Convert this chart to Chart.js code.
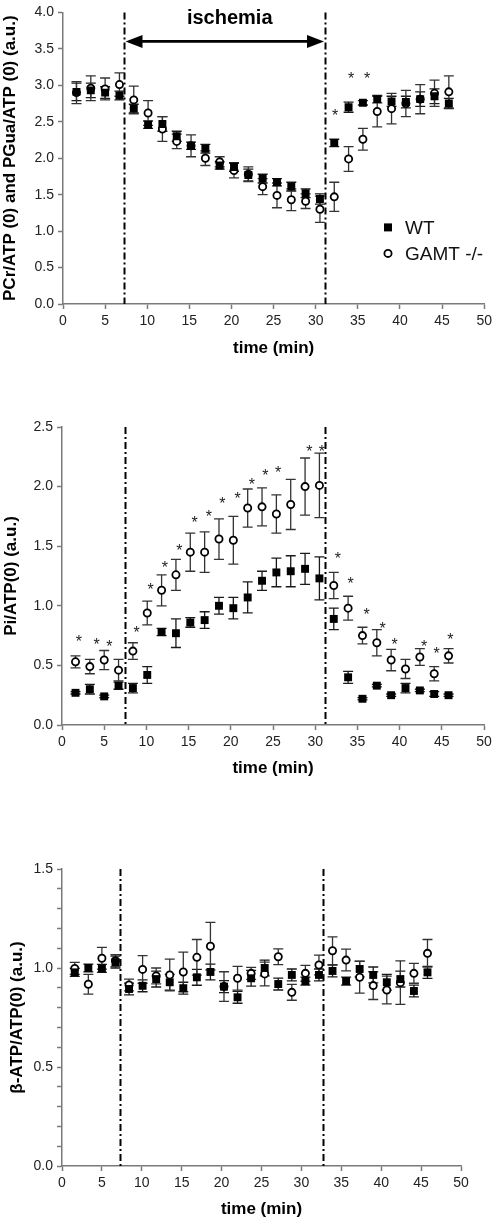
<!DOCTYPE html>
<html><head><meta charset="utf-8">
<script src="https://cdn.jsdelivr.net/npm/chart.js@4.4.0/dist/chart.umd.min.js"></script>
<style>
html,body{margin:0;padding:0;background:#fff;}
#wrap{position:relative;width:496px;height:1220px;overflow:hidden;background:#fff;}
.panel{position:absolute;left:0;width:496px;}
</style></head><body>
<div id="wrap">
<div class="panel" style="top:0;height:365px"><canvas id="c1"></canvas></div>
<div class="panel" style="top:400px;height:385px"><canvas id="c2"></canvas></div>
<div class="panel" style="top:840px;height:380px"><canvas id="c3"></canvas></div>
</div>
<script>
// ---- data (time in min) ----
const time = [1.6,3.3,5.0,6.7,8.4,10.1,11.8,13.5,15.2,16.9,18.6,20.3,22.0,23.7,25.4,27.1,28.8,30.5,32.2,33.9,35.6,37.3,39.0,40.7,42.4,44.1,45.8];
const xTicks = [0,5,10,15,20,25,30,35,40,45,50];
const seriesNames = ['WT','GAMT -/-'];

// Panel 1: PCr/ATP (WT) and PGua/ATP (GAMT -/-)
const pcrWT      = [2.91,2.93,2.90,2.86,2.68,2.46,2.47,2.30,2.17,2.13,1.90,1.88,1.77,1.72,1.67,1.61,1.52,1.44,2.21,2.70,2.76,2.81,2.78,2.77,2.81,2.85,2.75];
const pcrWTErr   = [0.12,0.10,0.08,0.06,0.06,0.05,0.10,0.07,0.05,0.06,0.05,0.06,0.08,0.06,0.05,0.06,0.06,0.07,0.05,0.07,0.03,0.05,0.07,0.08,0.10,0.10,0.07];
const pcrGAMT    = [2.90,2.96,2.95,3.01,2.80,2.62,2.40,2.23,2.17,2.00,1.95,1.83,1.78,1.61,1.49,1.43,1.41,1.30,1.47,1.99,2.26,2.64,2.68,2.75,2.81,2.89,2.91];
const pcrGAMTErr = [0.15,0.17,0.15,0.16,0.19,0.17,0.17,0.10,0.15,0.10,0.07,0.10,0.10,0.11,0.17,0.15,0.10,0.18,0.20,0.17,0.15,0.21,0.21,0.18,0.20,0.18,0.22];
const pcrTicks   = [0,0.5,1.0,1.5,2.0,2.5,3.0,3.5,4.0];
const pcrStarT   = [32.3,34.2,36.1];
const pcrStarV   = [2.64,3.15,3.15];
const pcrIschemia = [7.3,31.1];

// Panel 2: Pi/ATP(0)
const piWT      = [0.27,0.30,0.24,0.33,0.31,0.42,0.78,0.77,0.86,0.88,1.00,0.98,1.07,1.21,1.28,1.29,1.31,1.23,0.89,0.40,0.22,0.33,0.25,0.31,0.29,0.26,0.25];
const piWTErr   = [0.01,0.04,0.01,0.03,0.04,0.07,0.03,0.12,0.04,0.07,0.07,0.09,0.13,0.08,0.12,0.13,0.13,0.18,0.09,0.05,0.01,0.01,0.01,0.04,0.01,0.02,0.01];
const piGAMT    = [0.53,0.49,0.545,0.46,0.62,0.94,1.13,1.26,1.45,1.45,1.56,1.55,1.82,1.83,1.77,1.85,2.00,2.01,1.17,0.98,0.75,0.69,0.545,0.47,0.57,0.43,0.58];
const piGAMTErr = [0.05,0.06,0.08,0.09,0.07,0.10,0.13,0.13,0.16,0.17,0.17,0.20,0.16,0.16,0.16,0.21,0.24,0.27,0.11,0.10,0.07,0.11,0.09,0.08,0.07,0.06,0.06];
const piTicks   = [0,0.5,1.0,1.5,2.0,2.5];
const piStarT   = [2.0,4.1,5.6,8.85,10.5,12.2,13.9,15.7,17.4,19.0,20.8,22.5,24.1,25.6,29.3,30.8,32.7,34.2,36.1,38.0,39.4,42.9,44.4,46.0];
const piStarV   = [0.73,0.71,0.69,0.81,1.17,1.35,1.50,1.73,1.78,1.89,1.93,2.05,2.13,2.15,2.33,2.33,1.43,1.22,0.96,0.84,0.71,0.69,0.63,0.75];
const piIschemia = [7.5,31.2];

// Panel 3: beta-ATP/ATP(0)
const atpWT      = [0.978,1.00,0.998,1.03,0.894,0.91,0.944,0.928,0.898,0.953,0.98,0.906,0.852,0.948,1.00,0.919,0.965,0.934,0.965,0.985,0.934,0.995,0.965,0.928,0.944,0.884,0.978];
const atpWTErr   = [0.02,0.02,0.02,0.03,0.03,0.03,0.04,0.04,0.03,0.04,0.04,0.03,0.03,0.04,0.04,0.03,0.03,0.02,0.03,0.03,0.02,0.04,0.04,0.04,0.04,0.03,0.03];
const atpGAMT    = [0.998,0.918,1.049,1.037,0.914,0.993,0.96,0.965,0.98,1.054,1.11,0.906,0.948,0.973,0.97,1.057,0.877,0.973,1.015,1.087,1.04,0.953,0.911,0.889,0.926,0.973,1.074];
const atpGAMTErr = [0.03,0.05,0.055,0.03,0.03,0.07,0.04,0.08,0.10,0.09,0.12,0.075,0.06,0.03,0.06,0.04,0.04,0.04,0.05,0.07,0.055,0.08,0.07,0.07,0.11,0.05,0.07];
const atpTicks   = [0,0.1,0.2,0.3,0.4,0.5,0.6,0.7,0.8,0.9,1.0,1.1,1.2,1.3,1.4,1.5];
const atpIschemia = [7.3,32.7];

// ---- drawing helpers ----
const AXIS = '#7a7a7a';
const FONT = 'Arial, "Liberation Sans", Helvetica, sans-serif';

const extras = {
  id: 'extras',
  beforeDatasetsDraw(chart, args, o) {
    const ctx = chart.ctx, ca = chart.chartArea, xs = chart.scales.x, ys = chart.scales.y;
    ctx.save();
    ctx.strokeStyle = '#000'; ctx.lineWidth = 2; ctx.setLineDash([7,3,2,3]);
    (o.lines || []).forEach(t => {
      const px = Math.round(xs.getPixelForValue(t)) + 0.5;
      ctx.beginPath(); ctx.moveTo(px, ca.top); ctx.lineTo(px, ca.bottom); ctx.stroke();
    });
    ctx.setLineDash([]);
    chart.data.datasets.forEach((ds) => {
      if (!ds.errors) return;
      ctx.strokeStyle = ds.errColor || '#222'; ctx.lineWidth = 1.3;
      ds.data.forEach((p, i) => {
        const e = ds.errors[i];
        const px = xs.getPixelForValue(p.x);
        const y1 = ys.getPixelForValue(p.y + e), y2 = ys.getPixelForValue(p.y - e);
        ctx.beginPath();
        ctx.moveTo(px, y1); ctx.lineTo(px, y2);
        ctx.moveTo(px - 5, y1); ctx.lineTo(px + 5, y1);
        ctx.moveTo(px - 5, y2); ctx.lineTo(px + 5, y2);
        ctx.stroke();
      });
    });
    ctx.restore();
  },
  afterDatasetsDraw(chart, args, o) {
    const ctx = chart.ctx, ca = chart.chartArea, xs = chart.scales.x, ys = chart.scales.y;
    ctx.save();
    if (o.starT) {
      ctx.fillStyle = '#222'; ctx.font = '16px ' + FONT;
      ctx.textAlign = 'center'; ctx.textBaseline = 'alphabetic';
      o.starT.forEach((t, i) => {
        ctx.fillText('*', xs.getPixelForValue(t), ys.getPixelForValue(o.starV[i]) + 9.4);
      });
    }
    if (o.arrow) {
      const x1 = xs.getPixelForValue(o.lines[0]) + 1, x2 = xs.getPixelForValue(o.lines[1]) - 1;
      const y = ca.top + 29;
      ctx.strokeStyle = '#000'; ctx.fillStyle = '#000'; ctx.lineWidth = 2.6;
      ctx.beginPath(); ctx.moveTo(x1 + 10, y); ctx.lineTo(x2 - 10, y); ctx.stroke();
      ctx.beginPath(); ctx.moveTo(x1, y); ctx.lineTo(x1 + 17, y - 6.5); ctx.lineTo(x1 + 17, y + 6.5); ctx.closePath(); ctx.fill();
      ctx.beginPath(); ctx.moveTo(x2, y); ctx.lineTo(x2 - 17, y - 6.5); ctx.lineTo(x2 - 17, y + 6.5); ctx.closePath(); ctx.fill();
      ctx.font = 'bold 20px ' + FONT; ctx.textAlign = 'center'; ctx.textBaseline = 'middle';
      ctx.fillText('ischemia', (x1 + x2) / 2 + 5, ca.top + 6);
    }
    if (o.legend) {
      const lx = ca.left + 325, ly1 = ca.top + 215, ly2 = ca.top + 241;
      ctx.fillStyle = '#000';
      ctx.fillRect(lx - 4, ly1 - 4, 8, 8);
      ctx.beginPath(); ctx.arc(lx, ly2, 3.6, 0, Math.PI * 2);
      ctx.lineWidth = 1.8; ctx.strokeStyle = '#000'; ctx.stroke();
      ctx.font = '19px ' + FONT; ctx.textAlign = 'left'; ctx.textBaseline = 'middle';
      ctx.fillStyle = '#111';
      ctx.fillText(seriesNames[0], lx + 17, ly1 + 1);
      ctx.fillText(seriesNames[1], lx + 17, ly2 + 1);
    }
    ctx.restore();
  }
};

function pts(vals) { return time.map((t, i) => ({x: t, y: vals[i]})); }

function makePanel(id, p) {
  const W = 496;
  return new Chart(document.getElementById(id), {
    type: 'scatter',
    data: {
      datasets: [
        { label: seriesNames[0], data: pts(p.wt), errors: p.wtErr, errColor: '#1a1a1a',
          pointStyle: 'rect', pointRadius: 5.6, pointHoverRadius: 5.6,
          backgroundColor: '#000', borderColor: '#000', borderWidth: 0, showLine: false },
        { label: seriesNames[1], data: pts(p.gamt), errors: p.gamtErr, errColor: '#333',
          pointStyle: 'circle', pointRadius: 3.6, pointHoverRadius: 3.6,
          backgroundColor: '#fff', borderColor: '#000', borderWidth: 1.8, showLine: false }
      ]
    },
    options: {
      responsive: true, maintainAspectRatio: false, animation: false,
      devicePixelRatio: 1,
      events: [],
      layout: { padding: { left: 0, top: p.top, right: W - p.right, bottom: 0 } },
      plugins: {
        legend: { display: false }, tooltip: { enabled: false },
        extras: { lines: p.lines, starT: p.starT, starV: p.starV, arrow: p.arrow, legend: p.legend }
      },
      scales: {
        x: {
          type: 'linear', min: 0, max: 50,
          afterBuildTicks: s => { s.ticks = xTicks.map(v => ({value: v})); },
          afterFit: s => { s.height = p.H - p.bottom; },
          border: { display: true, color: AXIS, width: 1.5 },
          grid: { display: true, drawOnChartArea: false, drawTicks: true, tickLength: 5, tickColor: AXIS, tickWidth: 1.5 },
          ticks: { autoSkip: false, maxRotation: 0, padding: 4, color: '#222', font: { family: FONT, size: 14 },
                   callback: v => String(v) },
          title: { display: true, text: 'time (min)', color: '#000',
                   font: { family: FONT, size: 17, weight: 'bold' }, padding: { top: 0, bottom: p.xTitlePad } }
        },
        y: {
          type: 'linear', min: p.yTicks[0], max: p.yTicks[p.yTicks.length - 1],
          afterBuildTicks: s => { s.ticks = p.yTicks.map(v => ({value: v})); },
          afterFit: s => { s.width = p.left; },
          border: { display: true, color: AXIS, width: 1.5 },
          grid: { display: true, drawOnChartArea: false, drawTicks: true, tickLength: 5, tickColor: AXIS, tickWidth: 1.5 },
          ticks: { autoSkip: false, padding: 4, color: '#222', font: { family: FONT, size: 14 },
                   callback: v => (Math.abs(v * 2 - Math.round(v * 2)) < 1e-6 ? v.toFixed(1) : '') },
          title: { display: true, text: p.yTitle, color: '#000',
                   font: { family: FONT, size: 17, weight: 'bold' }, padding: { top: p.yTitlePad, bottom: 0 } }
        }
      }
    },
    plugins: [extras]
  });
}

makePanel('c1', { H: 365, top: 6, bottom: 304, left: 63, right: 488, xTitlePad: 6.8, yTitlePad: 0,
  wt: pcrWT, wtErr: pcrWTErr, gamt: pcrGAMT, gamtErr: pcrGAMTErr, yTicks: pcrTicks,
  yTitle: 'PCr/ATP (0) and PGua/ATP (0) (a.u.)', lines: pcrIschemia, starT: pcrStarT, starV: pcrStarV,
  arrow: true, legend: true });
makePanel('c2', { H: 385, top: 27, bottom: 325, left: 62, right: 484, xTitlePad: 6.8, yTitlePad: 1.3,
  wt: piWT, wtErr: piWTErr, gamt: piGAMT, gamtErr: piGAMTErr, yTicks: piTicks,
  yTitle: 'Pi/ATP(0) (a.u.)', lines: piIschemia, starT: piStarT, starV: piStarV });
makePanel('c3', { H: 380, top: 29, bottom: 326, left: 62, right: 461, xTitlePad: 0, yTitlePad: 7,
  wt: atpWT, wtErr: atpWTErr, gamt: atpGAMT, gamtErr: atpGAMTErr, yTicks: atpTicks,
  yTitle: 'β-ATP/ATP(0) (a.u.)', lines: atpIschemia });
</script>
</body></html>
